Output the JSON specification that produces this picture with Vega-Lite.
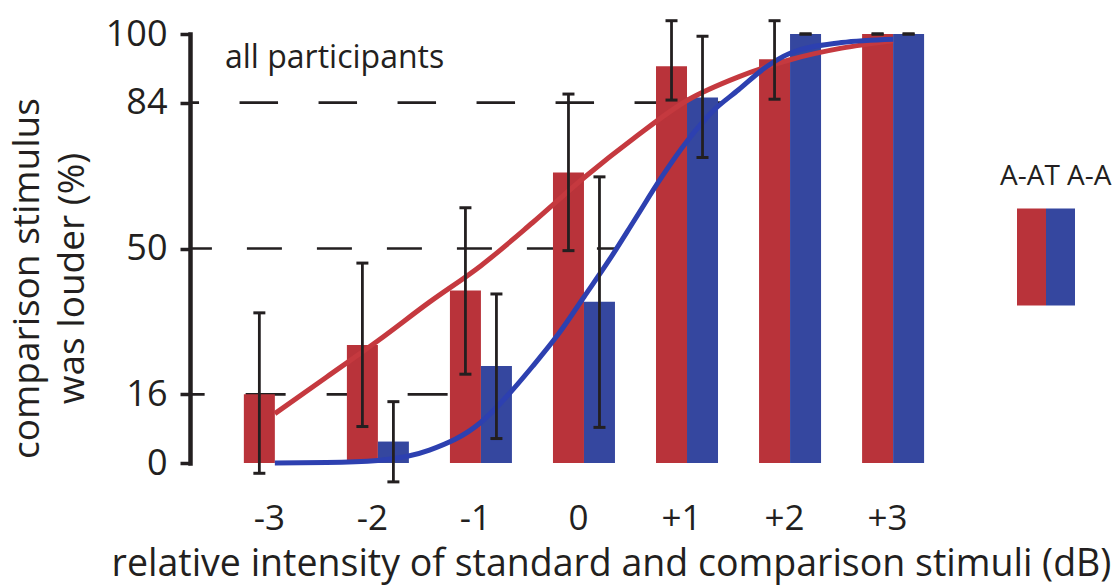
{
  "$schema": "https://vega.github.io/schema/vega-lite/v6.json",
  "width": 739,
  "height": 429,
  "autosize": "none",
  "padding": {"left": 190, "top": 34, "right": 186, "bottom": 122},
  "background": "white",
  "config": {
    "view": {"stroke": null},
    "font": "Open Sans",
    "axisX": {"domain": false, "ticks": false, "tickSize": 0, "grid": false, "labelFontSize": 35, "labelPadding": 38, "labelOffset": -6, "labelFont": "Open Sans", "labelColor": "#231f20", "labelFlush": false, "labelOverlap": false,
      "titleFont": "Open Sans", "titleFontSize": 37.5, "titleFontWeight": "normal", "titleColor": "#231f20", "titleX": 421, "titleY": 112, "titleAlign": "center", "titleBaseline": "alphabetic"},
    "axisY": {"grid": false, "domainColor": "#231f20", "domainWidth": 4.5, "domainCap": "square", "tickColor": "#231f20", "tickWidth": 3.5, "tickSize": 10, "labelFontSize": 36, "labelFont": "Open Sans", "labelColor": "#231f20", "labelPadding": 13,
      "titleFont": "Open Sans", "titleFontSize": 37, "titleFontWeight": "normal", "titleColor": "#231f20", "titleAngle": -90, "titleX": -163, "titleY": 244, "titleAlign": "center", "titleBaseline": "middle", "titleLineHeight": 45}
  },
  "title": {"text": "all participants", "anchor": "start", "frame": "group", "orient": "top", "offset": -34, "dy": 50, "baseline": "alphabetic", "dx": 35, "fontSize": 32, "fontWeight": "normal", "color": "#231f20", "font": "Open Sans"},
  "datasets": {
    "bars": [
      {"dB": -3, "group": "A-AT", "pct": 16, "lo": -2.4, "hi": 35},
      {"dB": -2, "group": "A-AT", "pct": 27.5, "lo": 8.5, "hi": 46.6},
      {"dB": -1, "group": "A-AT", "pct": 40.2, "lo": 20.7, "hi": 59.5},
      {"dB": 0, "group": "A-AT", "pct": 67.7, "lo": 49.5, "hi": 86},
      {"dB": 1, "group": "A-AT", "pct": 92.5, "lo": 84.6, "hi": 103.1},
      {"dB": 2, "group": "A-AT", "pct": 94.1, "lo": 84.8, "hi": 103.1},
      {"dB": 3, "group": "A-AT", "pct": 100, "lo": 100, "hi": 100},
      {"dB": -3, "group": "A-A", "pct": 0, "lo": null, "hi": null},
      {"dB": -2, "group": "A-A", "pct": 5, "lo": -4.4, "hi": 14.3},
      {"dB": -1, "group": "A-A", "pct": 22.6, "lo": 5.7, "hi": 39.4},
      {"dB": 0, "group": "A-A", "pct": 37.6, "lo": 8.3, "hi": 66.7},
      {"dB": 1, "group": "A-A", "pct": 85.2, "lo": 71.2, "hi": 99.5},
      {"dB": 2, "group": "A-A", "pct": 100, "lo": 100, "hi": 100},
      {"dB": 3, "group": "A-A", "pct": 100, "lo": 100, "hi": 100}
    ],
    "curves": [
      {"dB": -3, "group": "A-AT", "pct": 11.5},
      {"dB": -2.5, "group": "A-AT", "pct": 20},
      {"dB": -2, "group": "A-AT", "pct": 28.5},
      {"dB": -1.5, "group": "A-AT", "pct": 37.5},
      {"dB": -1, "group": "A-AT", "pct": 46},
      {"dB": -0.5, "group": "A-AT", "pct": 56},
      {"dB": 0, "group": "A-AT", "pct": 66.5},
      {"dB": 0.5, "group": "A-AT", "pct": 76},
      {"dB": 1, "group": "A-AT", "pct": 84.5},
      {"dB": 1.5, "group": "A-AT", "pct": 90},
      {"dB": 2, "group": "A-AT", "pct": 94},
      {"dB": 2.5, "group": "A-AT", "pct": 96.7},
      {"dB": 3, "group": "A-AT", "pct": 98.4},
      {"dB": -3, "group": "A-A", "pct": 0},
      {"dB": -2.5, "group": "A-A", "pct": 0.1},
      {"dB": -2, "group": "A-A", "pct": 0.6},
      {"dB": -1.5, "group": "A-A", "pct": 3},
      {"dB": -1, "group": "A-A", "pct": 9.5},
      {"dB": -0.75, "group": "A-A", "pct": 15.5},
      {"dB": -0.5, "group": "A-A", "pct": 22.5},
      {"dB": -0.25, "group": "A-A", "pct": 30},
      {"dB": 0, "group": "A-A", "pct": 38.7},
      {"dB": 0.25, "group": "A-A", "pct": 47.5},
      {"dB": 0.5, "group": "A-A", "pct": 57},
      {"dB": 0.75, "group": "A-A", "pct": 66.5},
      {"dB": 1, "group": "A-A", "pct": 75},
      {"dB": 1.25, "group": "A-A", "pct": 82},
      {"dB": 1.5, "group": "A-A", "pct": 87},
      {"dB": 1.75, "group": "A-A", "pct": 92},
      {"dB": 2, "group": "A-A", "pct": 95.5},
      {"dB": 2.5, "group": "A-A", "pct": 98},
      {"dB": 3, "group": "A-A", "pct": 98.8}
    ],
    "refs": [
      {"level": 16, "cross": -0.77},
      {"level": 50, "cross": 0.31},
      {"level": 84, "cross": 1.34}
    ]
  },
  "layer": [
    {
      "data": {"name": "refs"},
      "transform": [{"filter": "datum.level === 16"}],
      "mark": {"type": "rule", "strokeDash": [40, 41], "strokeDashOffset": 24, "strokeWidth": 2.6, "color": "#231f20"},
      "encoding": {
        "x": {"field": "cross", "type": "quantitative"},
        "x2": {"value": 0},
        "y": {"field": "level", "type": "quantitative"}
      }
    },
    {
      "data": {"name": "refs"},
      "transform": [{"filter": "datum.level === 50"}],
      "mark": {"type": "rule", "strokeDash": [35, 35], "strokeDashOffset": 16, "strokeWidth": 2.6, "color": "#231f20"},
      "encoding": {
        "x": {"field": "cross", "type": "quantitative"},
        "x2": {"value": 0},
        "y": {"field": "level", "type": "quantitative"}
      }
    },
    {
      "data": {"name": "refs"},
      "transform": [{"filter": "datum.level === 84"}],
      "mark": {"type": "rule", "strokeDash": [38.5, 40.5], "strokeDashOffset": 30, "strokeWidth": 2.6, "color": "#231f20"},
      "encoding": {
        "x": {"field": "cross", "type": "quantitative"},
        "x2": {"value": 0},
        "y": {"field": "level", "type": "quantitative"}
      }
    },
    {
      "data": {"name": "bars"},
      "transform": [{"filter": "datum.group === 'A-AT'"}],
      "mark": {"type": "bar", "orient": "vertical", "size": 31, "xOffset": -15.5},
      "encoding": {
        "x": {"field": "dB", "type": "quantitative", "scale": {"domain": [-3.775, 3.3], "nice": false, "zero": false},
          "axis": {"values": [-3, -2, -1, 0, 1, 2, 3], "labelExpr": "datum.value > 0 ? '+' + datum.value : '' + datum.value", "title": "relative intensity of standard and comparison stimuli (dB)"}},
        "y": {"field": "pct", "type": "quantitative", "scale": {"domain": [0, 100], "nice": false},
          "axis": {"values": [0, 16, 50, 84, 100], "title": ["comparison stimulus", "was louder (%)"]}},
        "color": {"field": "group", "type": "nominal", "scale": {"domain": ["A-AT", "A-A"], "range": ["#B9333A", "#35479F"]},
          "legend": {"orient": "none", "legendX": 810, "legendY": 129, "title": "A-AT A-A", "titleFont": "Open Sans", "titleFontSize": 28, "titleFontWeight": "normal", "titleColor": "#231f20", "titlePadding": 17, "direction": "horizontal", "columnPadding": 0, "rowPadding": 0, "symbolType": "M-1,-1H1V5.69H-1Z", "symbolSize": 841, "symbolStrokeWidth": 0, "symbolOpacity": 1, "labelExpr": "''", "labelOffset": 0, "labelFontSize": 10, "padding": 0,
            "encode": {"title": {"update": {"dx": {"value": -17}}}}}}
      }
    },
    {
      "data": {"name": "bars"},
      "transform": [{"filter": "datum.group === 'A-A'"}],
      "mark": {"type": "bar", "orient": "vertical", "size": 31, "xOffset": 15.5},
      "encoding": {
        "x": {"field": "dB", "type": "quantitative"},
        "y": {"field": "pct", "type": "quantitative"},
        "color": {"field": "group", "type": "nominal"}
      }
    },
    {
      "data": {"name": "curves"},
      "transform": [{"filter": "datum.group === 'A-AT'"}],
      "mark": {"type": "line", "interpolate": "monotone", "strokeWidth": 5, "color": "#C5393F"},
      "encoding": {
        "x": {"field": "dB", "type": "quantitative"},
        "y": {"field": "pct", "type": "quantitative"}
      }
    },
    {
      "data": {"name": "curves"},
      "transform": [{"filter": "datum.group === 'A-A'"}],
      "mark": {"type": "line", "interpolate": "monotone", "strokeWidth": 5, "color": "#2D40B0"},
      "encoding": {
        "x": {"field": "dB", "type": "quantitative"},
        "y": {"field": "pct", "type": "quantitative"}
      }
    },
    {
      "data": {"name": "bars"},
      "transform": [{"filter": "datum.group === 'A-AT' && datum.lo != null"}],
      "mark": {"type": "rule", "strokeWidth": 2.8, "color": "#231f20", "xOffset": -15.5},
      "encoding": {
        "x": {"field": "dB", "type": "quantitative"},
        "y": {"field": "lo", "type": "quantitative"},
        "y2": {"field": "hi"}
      }
    },
    {
      "data": {"name": "bars"},
      "transform": [{"filter": "datum.group === 'A-A' && datum.lo != null"}],
      "mark": {"type": "rule", "strokeWidth": 2.8, "color": "#231f20", "xOffset": 15.5},
      "encoding": {
        "x": {"field": "dB", "type": "quantitative"},
        "y": {"field": "lo", "type": "quantitative"},
        "y2": {"field": "hi"}
      }
    },
    {
      "data": {"name": "bars"},
      "transform": [{"filter": "datum.group === 'A-AT' && datum.lo != null"}, {"fold": ["lo", "hi"], "as": ["end", "v"]}],
      "mark": {"type": "tick", "orient": "horizontal", "size": 12, "thickness": 3, "color": "#231f20", "opacity": 1, "xOffset": -15.5},
      "encoding": {
        "x": {"field": "dB", "type": "quantitative"},
        "y": {"field": "v", "type": "quantitative"}
      }
    },
    {
      "data": {"name": "bars"},
      "transform": [{"filter": "datum.group === 'A-A' && datum.lo != null"}, {"fold": ["lo", "hi"], "as": ["end", "v"]}],
      "mark": {"type": "tick", "orient": "horizontal", "size": 12, "thickness": 3, "color": "#231f20", "opacity": 1, "xOffset": 15.5},
      "encoding": {
        "x": {"field": "dB", "type": "quantitative"},
        "y": {"field": "v", "type": "quantitative"}
      }
    }
  ]
}
